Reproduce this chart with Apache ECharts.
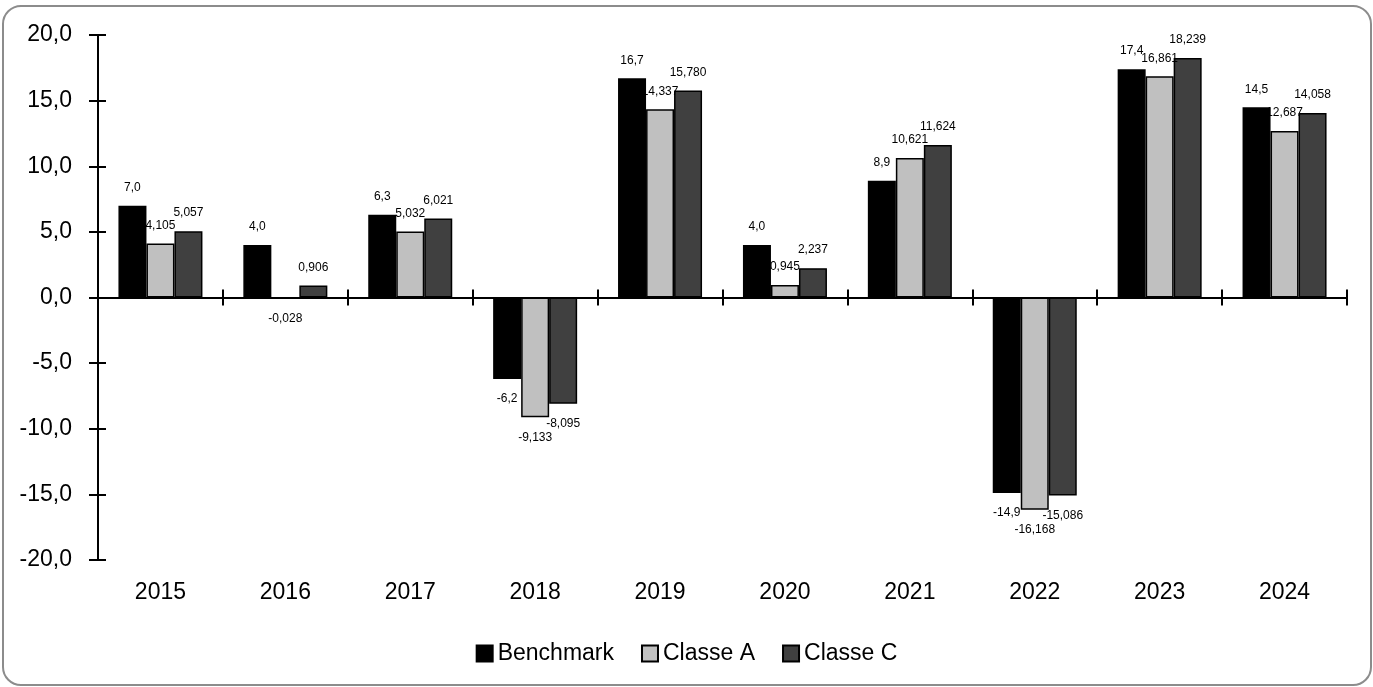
<!DOCTYPE html>
<html>
<head>
<meta charset="utf-8">
<script src="https://cdn.jsdelivr.net/npm/echarts@6/dist/echarts.min.js"></script>
<style>html,body{margin:0;padding:0;background:#fff}#c{width:1373px;height:687px}</style>
</head>
<body>
<div id="c"></div>
<script>
const categories = ['2015','2016','2017','2018','2019','2020','2021','2022','2023','2024'];
const benchmark = [7.0, 4.0, 6.3, -6.2, 16.7, 4.0, 8.9, -14.9, 17.4, 14.5];
const classeA = [4.105, -0.028, 5.032, -9.133, 14.337, 0.945, 10.621, -16.168, 16.861, 12.687];
const classeC = [5.057, 0.906, 6.021, -8.095, 15.780, 2.237, 11.624, -15.086, 18.239, 14.058];
const seriesNames = ['Benchmark', 'Classe A', 'Classe C'];
const yTicks = [-20, 20, 5];

const colors = ['#000000', '#c0c0c0', '#404040'];
const decimals = [1, 3, 3];
const fmt = (v, d) => v.toFixed(d).replace('.', ',');

function makeSeries(name, arr, i) {
  return {
    name: name,
    type: 'bar',
    xAxisIndex: 0,
    yAxisIndex: 0,
    barWidth: 28,
    barGap: '0%',
    itemStyle: { color: colors[i], borderColor: '#000', borderWidth: 1.5 },
    data: arr.map(v => ({
      value: v,
      label: {
        show: true,
        position: v < 0 ? 'bottom' : 'top',
        distance: v < 0 ? 14 : 12,
        formatter: () => fmt(v, decimals[i]),
        fontSize: 12,
        color: '#000',
        fontFamily: 'Liberation Sans'
      }
    }))
  };
}

const chart = echarts.init(document.getElementById('c'));
chart.setOption({
  animation: false,
  backgroundColor: '#fff',
  graphic: [{
    type: 'rect',
    shape: { x: 3, y: 6, width: 1368, height: 679, r: 18 },
    style: { fill: 'none', stroke: '#8c8c8c', lineWidth: 2 },
    silent: true
  }],
  grid: { left: 98, right: 26, top: 35, bottom: 127 },
  legend: {
    data: seriesNames,
    left: 'center',
    top: 637,
    itemWidth: 16,
    itemHeight: 16,
    itemGap: 27,
    icon: 'rect',
    textStyle: { fontSize: 23, color: '#000', fontFamily: 'Liberation Sans' }
  },
  xAxis: [
    {
      type: 'category', data: categories, position: 'bottom',
      axisLine: { show: false, onZero: false }, axisTick: { show: false },
      axisLabel: { fontSize: 23, color: '#000', margin: 21, fontFamily: 'Liberation Sans' }
    },
    {
      type: 'category', data: categories, position: 'bottom',
      axisLine: { show: true, onZero: true, lineStyle: { color: '#000', width: 2 } },
      axisTick: { show: true, length: 8, inside: false, lineStyle: { color: '#000', width: 2 } },
      axisLabel: { show: false }
    },
    {
      type: 'category', data: categories, position: 'top',
      axisLine: { show: false, onZero: true },
      axisTick: { show: true, length: 8, inside: false, lineStyle: { color: '#000', width: 2 } },
      axisLabel: { show: false }
    }
  ],
  yAxis: [
    {
      type: 'value', min: yTicks[0], max: yTicks[1], interval: yTicks[2], position: 'left',
      splitLine: { show: false },
      axisLine: { show: true, onZero: false, lineStyle: { color: '#000', width: 2 } },
      axisTick: { show: true, length: 9, lineStyle: { color: '#000', width: 2 } },
      axisLabel: { fontSize: 23, color: '#000', margin: 26, fontFamily: 'Liberation Sans',
        formatter: v => fmt(v, 1) }
    },
    {
      type: 'value', min: yTicks[0], max: yTicks[1], interval: yTicks[2], position: 'right',
      offset: -1249,
      splitLine: { show: false },
      axisLine: { show: false, onZero: false },
      axisTick: { show: true, inside: false, length: 8, lineStyle: { color: '#000', width: 2 } },
      axisLabel: { show: false }
    }
  ],
  series: [
    makeSeries(seriesNames[0], benchmark, 0),
    makeSeries(seriesNames[1], classeA, 1),
    makeSeries(seriesNames[2], classeC, 2)
  ]
});
</script>
</body>
</html>
